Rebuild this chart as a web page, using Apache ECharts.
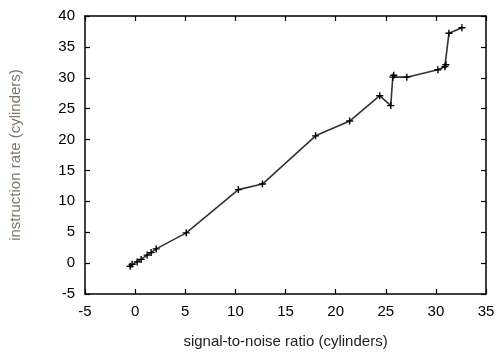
<!DOCTYPE html>
<html>
<head>
<meta charset="utf-8">
<script src="https://cdn.jsdelivr.net/npm/echarts@6/dist/echarts.min.js"></script>
<style>
  html, body { margin: 0; padding: 0; background: #fff; }
  #chart { width: 498px; height: 354px; }
</style>
</head>
<body>
<div id="chart"></div>
<script>
// signal-to-noise ratio (x) vs instruction rate (y)
const snr = [-0.5, -0.3, 0.2, 0.6, 1.2, 1.6, 2.1, 5.1, 10.3, 12.7, 18.0, 21.4, 24.4, 25.5, 25.7, 25.8, 27.1, 30.2, 30.9, 31.0, 31.3, 32.6];
const rate = [-0.5, -0.2, 0.2, 0.6, 1.3, 1.7, 2.3, 4.9, 11.9, 12.8, 20.6, 23.0, 27.1, 25.5, 30.1, 30.4, 30.1, 31.3, 31.8, 32.1, 37.2, 38.1];

const xTicks = [-5, 0, 5, 10, 15, 20, 25, 30, 35];
const yTicks = [-5, 0, 5, 10, 15, 20, 25, 30, 35, 40];

const chart = echarts.init(document.getElementById('chart'));

const font = 'Liberation Sans, Arial, sans-serif';
const plusPath = 'path://M4,0 L6,0 L6,4 L10,4 L10,6 L6,6 L6,10 L4,10 L4,6 L0,6 L0,4 L4,4 Z';

const axisLine = { show: true, onZero: false, lineStyle: { color: '#000', width: 1.5 } };
const axisTick = { show: true, inside: true, length: 5, lineStyle: { color: '#000', width: 1.2 } };

const option = {
  animation: false,
  grid: { left: 84, right: 12, top: 16, bottom: 59 },
  xAxis: [
    {
      type: 'value',
      min: xTicks[0],
      max: xTicks[xTicks.length - 1],
      interval: 5,
      name: 'signal-to-noise ratio (cylinders)',
      nameLocation: 'middle',
      nameGap: 40,
      nameTextStyle: { color: '#222', fontSize: 15, fontFamily: font },
      axisLine: axisLine,
      axisTick: axisTick,
      axisLabel: { color: '#000', fontSize: 15, fontFamily: font, margin: 10 },
      splitLine: { show: false },
    },
    {
      type: 'value',
      position: 'top',
      min: xTicks[0],
      max: xTicks[xTicks.length - 1],
      interval: 5,
      axisLine: axisLine,
      axisTick: axisTick,
      axisLabel: { show: false },
      splitLine: { show: false },
    },
  ],
  yAxis: [
    {
      type: 'value',
      min: yTicks[0],
      max: yTicks[yTicks.length - 1],
      interval: 5,
      name: 'instruction rate (cylinders)',
      nameLocation: 'middle',
      nameGap: 62,
      nameTextStyle: { color: '#7f7466', fontSize: 15, fontFamily: font },
      axisLine: axisLine,
      axisTick: axisTick,
      axisLabel: { color: '#000', fontSize: 15, fontFamily: font, margin: 10 },
      splitLine: { show: false },
    },
    {
      type: 'value',
      position: 'right',
      min: yTicks[0],
      max: yTicks[yTicks.length - 1],
      interval: 5,
      axisLine: axisLine,
      axisTick: axisTick,
      axisLabel: { show: false },
      splitLine: { show: false },
    },
  ],
  series: [
    {
      type: 'line',
      data: snr.map((x, i) => [x, rate[i]]),
      symbol: plusPath,
      symbolSize: 7,
      itemStyle: { color: '#000' },
      lineStyle: { color: '#333', width: 1.6 },
    },
  ],
};

chart.setOption(option);
</script>
</body>
</html>
